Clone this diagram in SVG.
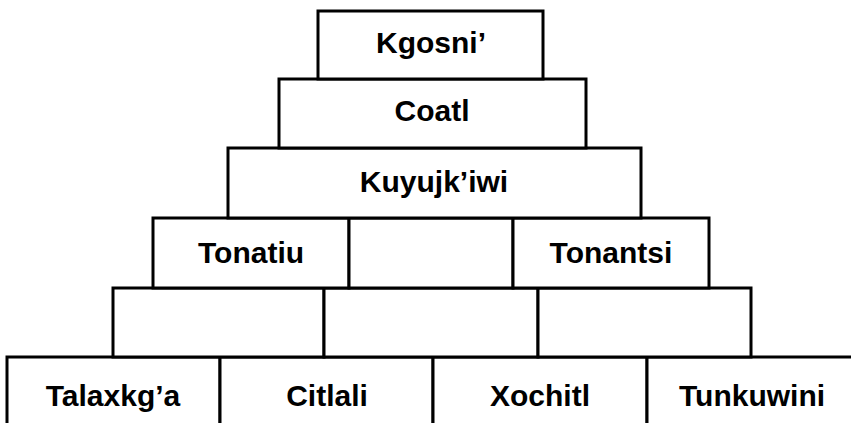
<svg xmlns="http://www.w3.org/2000/svg" width="851" height="423" viewBox="0 0 851 423">
<style>
.b{fill:#fff;stroke:#000;stroke-width:3}
.t{font-family:"Liberation Sans",Arial,sans-serif;font-weight:bold;font-size:30px;fill:#000;text-anchor:middle}
</style>
<rect x="0" y="0" width="851" height="423" fill="#fff"/>
<g id="row6">
<g id="talaxkga"><rect class="b" x="7" y="357" width="213" height="80"/><text class="t" x="113" y="406">Talaxkg’a</text></g>
<g id="citlali"><rect class="b" x="220" y="357" width="213" height="80"/><text class="t" x="327" y="406">Citlali</text></g>
<g id="xochitl"><rect class="b" x="433" y="357" width="214" height="80"/><text class="t" x="540" y="406">Xochitl</text></g>
<g id="tunkuwini"><rect class="b" x="647" y="357" width="213" height="80"/><text class="t" x="752" y="406">Tunkuwini</text></g>
</g>
<g id="row5">
<g id="r5a"><rect class="b" x="113" y="288" width="211" height="69"/></g>
<g id="r5b"><rect class="b" x="324" y="288" width="214" height="69"/></g>
<g id="r5c"><rect class="b" x="538" y="288" width="213" height="69"/></g>
</g>
<g id="row4">
<g id="tonatiu"><rect class="b" x="153" y="218" width="196" height="70"/><text class="t" x="251" y="263">Tonatiu</text></g>
<g id="r4mid"><rect class="b" x="349" y="218" width="164" height="70"/></g>
<g id="tonantsi"><rect class="b" x="513" y="218" width="196" height="70"/><text class="t" x="611" y="263">Tonantsi</text></g>
</g>
<g id="kuyujkiwi"><rect class="b" x="228" y="148" width="413" height="70"/><text class="t" x="434" y="192">Kuyujk’iwi</text></g>
<g id="coatl"><rect class="b" x="279" y="79" width="307" height="69"/><text class="t" x="432" y="121">Coatl</text></g>
<g id="kgosni"><rect class="b" x="318" y="11" width="225" height="68"/><text class="t" x="431" y="53">Kgosni’</text></g>
</svg>
